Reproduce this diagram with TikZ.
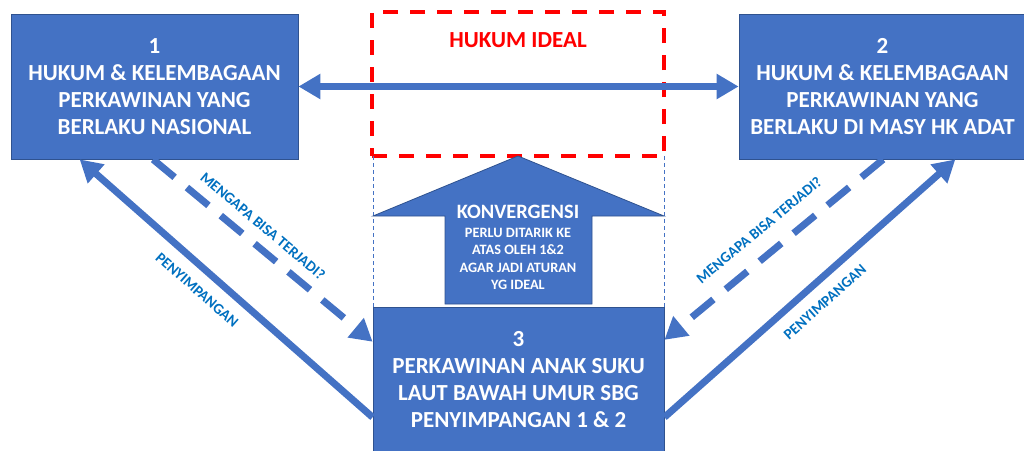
\documentclass[tikz,border=0pt]{standalone}
\usepackage{fontspec}
\setmainfont{Carlito}
\usetikzlibrary{arrows.meta,calc}
\definecolor{boxblue}{HTML}{4472C4}
\definecolor{boxedge}{HTML}{2F528F}
\definecolor{lblblue}{HTML}{0070C0}
\definecolor{idealred}{HTML}{FF0000}
\tikzset{
 bigbox/.style={draw=boxedge, line width=0.8pt, fill=boxblue, text=white, font=\bfseries\fontsize{23}{27}\selectfont, align=center, inner sep=0pt},
 conn/.style={draw=boxblue, line width=7pt, -{Triangle[length=22pt,width=24pt]}},
 dconn/.style={conn, dash pattern=on 28pt off 16pt},
 lbl/.style={text=lblblue, font=\bfseries\fontsize{15}{17}\selectfont, inner sep=0pt},
 guide/.style={draw=boxblue, line width=1pt, dash pattern=on 4pt off 3pt},
 idealbox/.style={draw=idealred, line width=3.6pt, dash pattern=on 15pt off 12pt, inner sep=0pt},
 bigarrow/.style={fill=boxblue, draw=boxedge, line width=0.8pt},
}
\begin{document}
\begin{tikzpicture}[x=1pt,y=-1pt]
\useasboundingbox (0,0) rectangle (1024,450);
% boxes
\node[bigbox, minimum width=287pt, minimum height=145pt] (b1) at (154.5,86.5)
  {1\\HUKUM \& KELEMBAGAAN\\PERKAWINAN YANG\\BERLAKU NASIONAL};
\node[bigbox, minimum width=287pt, minimum height=145pt] (b2) at (882.5,86.5)
  {2\\HUKUM \& KELEMBAGAAN\\PERKAWINAN YANG\\BERLAKU DI MASY HK ADAT};
\node[bigbox, minimum width=291pt, minimum height=145pt] (b3) at (518.5,379.5)
  {3\\PERKAWINAN ANAK SUKU\\LAUT BAWAH UMUR SBG\\PENYIMPANGAN 1 \& 2};
% ideal box
\node[idealbox, minimum width=292pt, minimum height=144pt] (ideal) at (518,84) {};
\node[text=idealred, font=\bfseries\fontsize{23}{27}\selectfont, inner sep=0pt] (idealtxt) at (518,40) {HUKUM IDEAL};
% horizontal double arrow
\draw[draw=boxblue, line width=7pt, {Triangle[length=22pt,width=24pt]}-{Triangle[length=22pt,width=24pt]}] (b1.east) -- (b2.west);
% guide lines
\coordinate (gl) at (373,156);
\coordinate (gr) at (664,156);
\draw[guide] (gl) -- (gl |- b3.north);
\draw[guide] (gr) -- (gr |- b3.north);
% big up arrow
\coordinate (tip) at (518,156);
\filldraw[bigarrow] (tip) -- (664,216) -- (592,216) -- (592,304) -- (445,304) -- (445,216) -- (373,216) -- cycle;
\node[text=white, font=\bfseries\fontsize{20.4}{24}\selectfont, inner sep=0pt] (konv) at (518,212) {KONVERGENSI};
\node[text=white, font=\bfseries\fontsize{14.3}{17.4}\selectfont, align=center, inner sep=0pt] (konvtxt) at (518,259)
  {PERLU DITARIK KE\\ATAS OLEH 1\&2\\AGAR JADI ATURAN\\YG IDEAL};
% diagonal connectors
\coordinate (b1s) at ($(b1.south west)!0.24!(b1.south east)$);
\coordinate (b1d) at ($(b1.south west)!0.495!(b1.south east)$);
\coordinate (b2d) at ($(b2.south west)!0.502!(b2.south east)$);
\coordinate (b2s) at ($(b2.south west)!0.753!(b2.south east)$);
\coordinate (b3ls) at ($(b3.north west)!0.759!(b3.south west)$);
\coordinate (b3ld) at ($(b3.north west)!0.241!(b3.south west)$);
\coordinate (b3rs) at ($(b3.north east)!0.759!(b3.south east)$);
\coordinate (b3rd) at ($(b3.north east)!0.228!(b3.south east)$);
\draw[conn] (b3ls) -- (b1s);
\draw[dconn] (b1d) -- (b3ld);
\draw[conn] (b3rs) -- (b2s);
\draw[dconn] (b2d) -- (b3rd);
% labels
\node[lbl, rotate=-40] (l1) at (263,226) {MENGAPA BISA TERJADI?};
\node[lbl, rotate=-41.4] (l2) at (197,290) {PENYIMPANGAN};
\node[lbl, rotate=39.6] (l3) at (759,230) {MENGAPA BISA TERJADI?};
\node[lbl, rotate=41.6] (l4) at (825,302) {PENYIMPANGAN};
\end{tikzpicture}
\end{document}
